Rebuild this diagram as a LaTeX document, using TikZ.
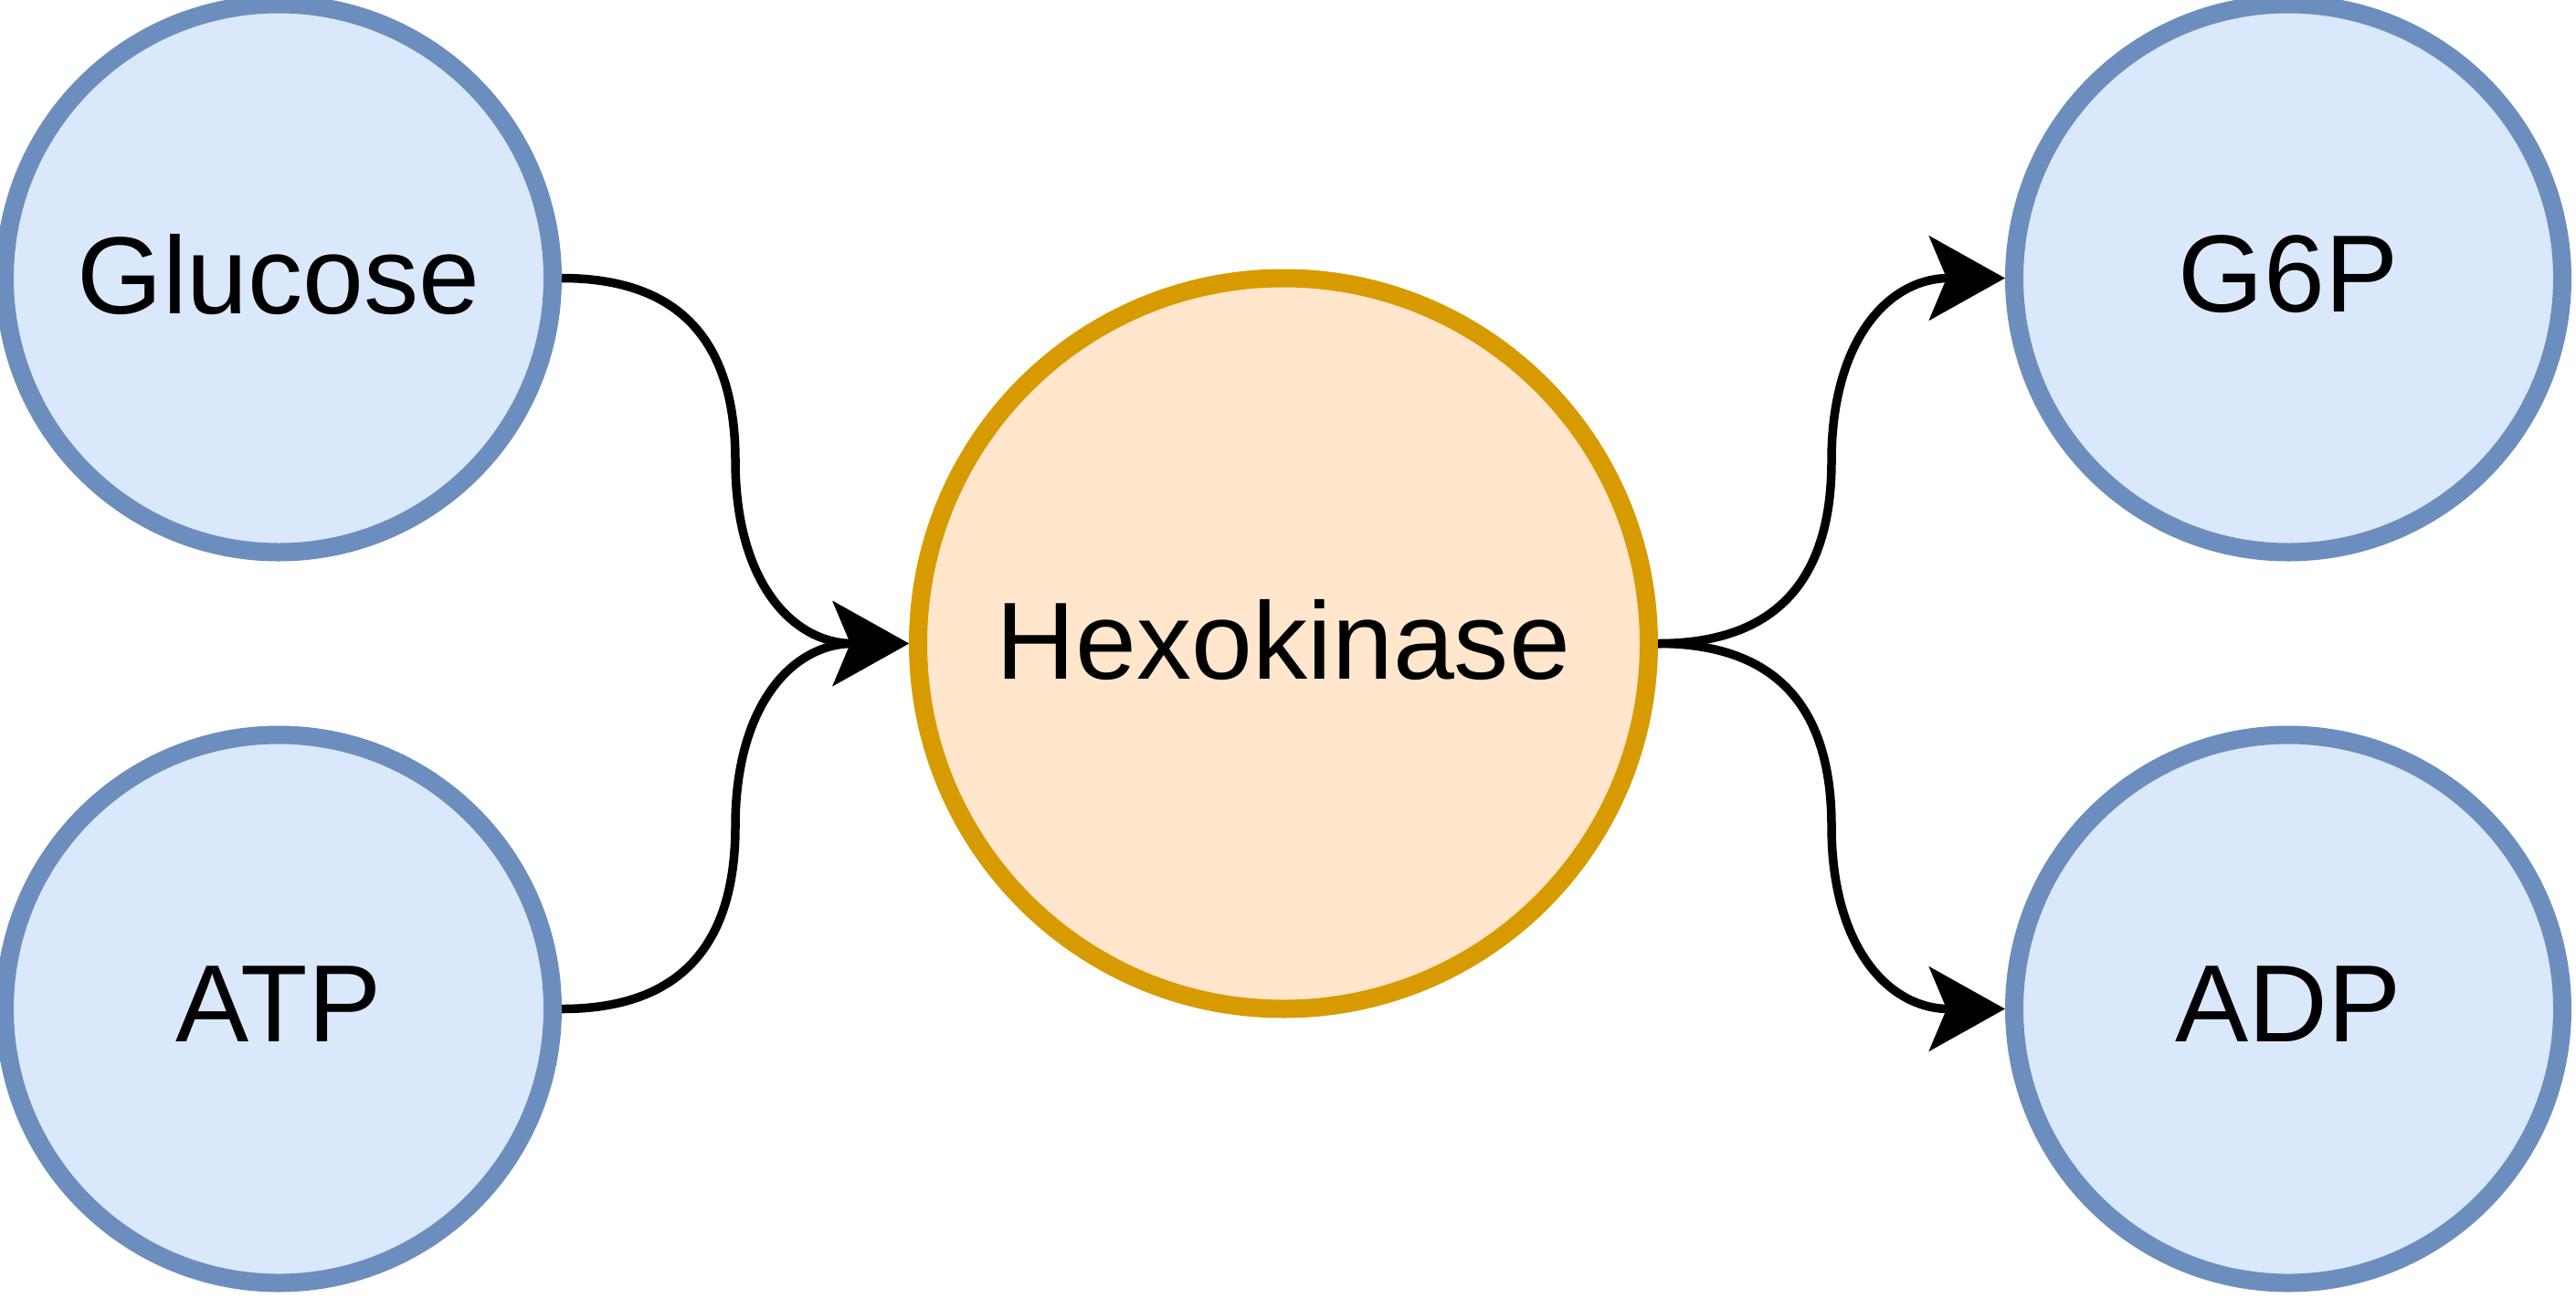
\documentclass[tikz,border=0pt]{standalone}
\usepackage{fontspec}
\setmainfont{Liberation Sans}
\usetikzlibrary{arrows.meta,calc}
\definecolor{molfill}{HTML}{DAE8FC}
\definecolor{moldraw}{HTML}{6C8EBF}
\definecolor{enzfill}{HTML}{FFE6CC}
\definecolor{enzdraw}{HTML}{D79B00}

\begin{document}
\begin{tikzpicture}[
    mol/.style={circle,fill=molfill,draw=moldraw,line width=0.2cm,minimum size=6cm,inner sep=0pt,text depth=0.1cm,font=\fontsize{34.2}{41}\selectfont},
    enz/.style={mol,fill=enzfill,draw=enzdraw,minimum size=8cm},
    flow/.style={line width=0.095cm,-{Stealth[length=0.83cm,width=0.92cm,inset=0.19cm]}}
  ]
  \useasboundingbox (0,0) rectangle (28.2,-14.2);
  \node[enz] (hexo) at (14.05,-7.045) {Hexokinase};
  \node[mol] (glc) at (3.05,-3.045) {Glucose};
  \node[mol] (atp) at (3.05,-11.045) {ATP};
  \node[mol] (g6p) at (25.05,-3.045) {G6P};
  \node[mol] (adp) at (25.05,-11.045) {ADP};
  % substrates in
  \draw[flow] (glc.east) .. controls +(1.27,0) and +(0,1.33) .. ($(glc.east)!.5!(hexo.west)$)
    .. controls +(0,-1.33) and +(-1.27,0) .. (hexo.west);
  \draw[flow] (atp.east) .. controls +(1.27,0) and +(0,-1.33) .. ($(atp.east)!.5!(hexo.west)$)
    .. controls +(0,1.33) and +(-1.27,0) .. (hexo.west);
  % products out
  \draw[flow] (hexo.east) .. controls +(1.27,0) and +(0,-1.33) .. ($(hexo.east)!.5!(g6p.west)$)
    .. controls +(0,1.33) and +(-1.27,0) .. (g6p.west);
  \draw[flow] (hexo.east) .. controls +(1.27,0) and +(0,1.33) .. ($(hexo.east)!.5!(adp.west)$)
    .. controls +(0,-1.33) and +(-1.27,0) .. (adp.west);
\end{tikzpicture}
\end{document}
